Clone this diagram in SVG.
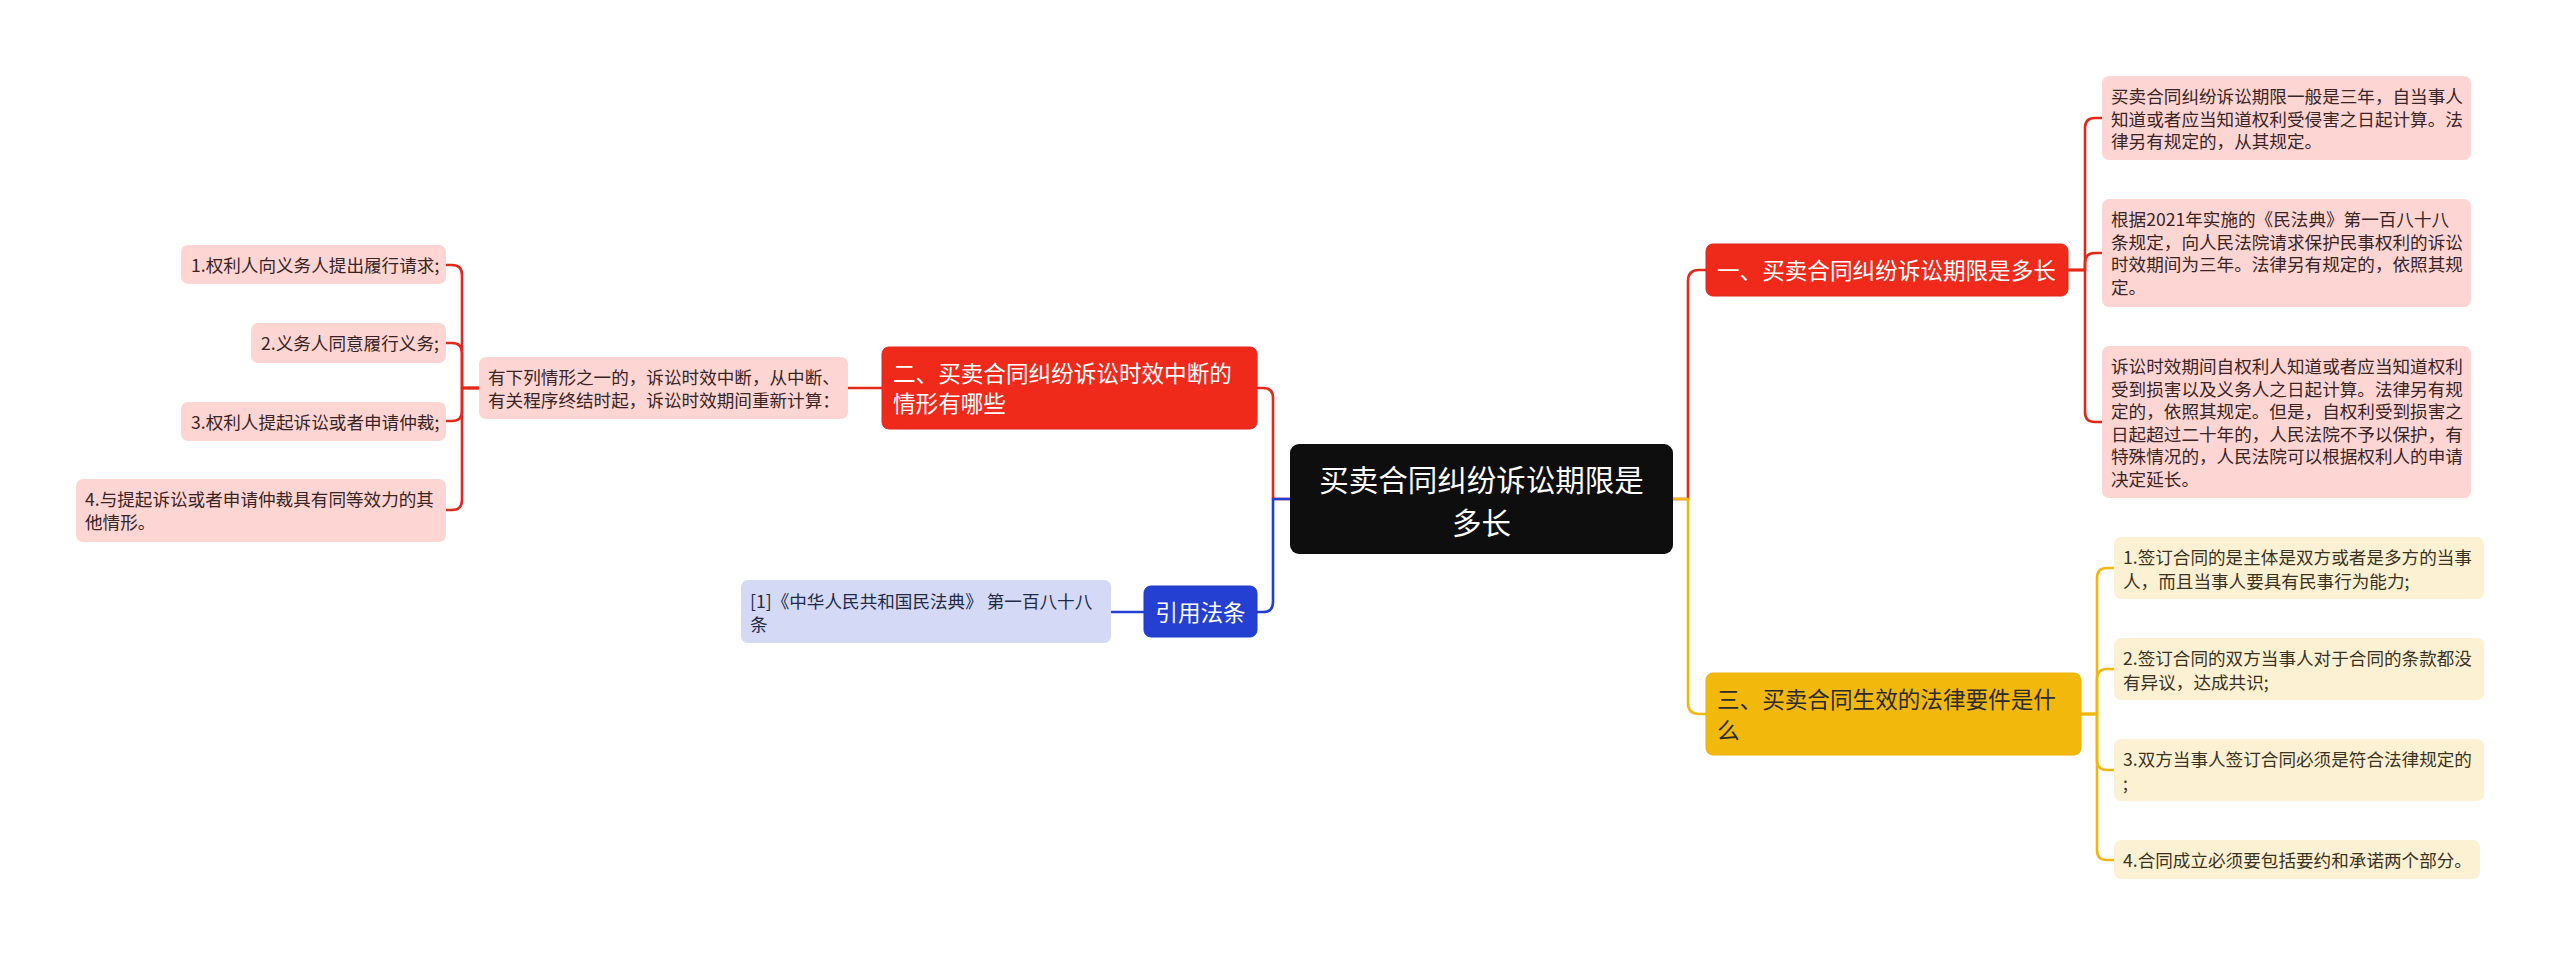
<svg xmlns="http://www.w3.org/2000/svg" width="2560" height="955" viewBox="0 0 2560 955">
<style>
text{font-family:"Noto Sans CJK SC","Noto Sans",sans-serif;}
.lk{fill:none;stroke-width:2.6;stroke-linecap:round;stroke-linejoin:round;}
.r{stroke:#e3281c;}
.y{stroke:#f0b70f;}
.b{stroke:#2340d3;}
.leafp{fill:#fdd6d4;}
.leafy{fill:#fdf1d3;}
.leafb{fill:#d4d9f6;}
.tp{font-size:17.6px;fill:#3a2424;}
.ty{font-size:17.6px;fill:#3a3322;}
.tb{font-size:17.6px;fill:#222a48;}
.main{font-size:22.6px;}
</style>
<rect width="2560" height="955" fill="#ffffff"/>
<g id="connectors">
<path class="lk r" d="M1673,499 H1688 V281 Q1688,270 1699,270 H1706"/>
<path class="lk y" d="M1673,499 H1688 V703 Q1688,714 1699,714 H1706"/>
<path class="lk r" d="M2068,270 H2085 V128 Q2085,118 2095,118 H2102"/>
<path class="lk r" d="M2068,270 H2085 V263 Q2085,253 2095,253 H2102"/>
<path class="lk r" d="M2068,270 H2085 V412 Q2085,422 2095,422 H2102"/>
<path class="lk y" d="M2081,714 H2097 V578 Q2097,568 2107,568 H2114"/>
<path class="lk y" d="M2081,714 H2097 V679 Q2097,669 2107,669 H2114"/>
<path class="lk y" d="M2081,714 H2097 V760 Q2097,770 2107,770 H2114"/>
<path class="lk y" d="M2081,714 H2097 V850 Q2097,860 2107,860 H2114"/>
<path class="lk r" d="M1290,499 H1273 V398 Q1273,388 1263,388 H1257"/>
<path class="lk b" d="M1290,499 H1273 V602 Q1273,612 1263,612 H1257"/>
<path class="lk r" d="M882,388 H848"/>
<path class="lk r" d="M479,388 H462 V275 Q462,265 452,265 H446"/>
<path class="lk r" d="M479,388 H462 V353 Q462,343 452,343 H446"/>
<path class="lk r" d="M479,388 H462 V411 Q462,421 452,421 H446"/>
<path class="lk r" d="M479,388 H462 V500 Q462,510 452,510 H446"/>
<path class="lk b" d="M1144,612 H1111"/>
</g>
<g id="center">
<rect x="1290" y="444" width="383" height="110" rx="9" fill="#0e0e0e"/>
<text x="1481.5" y="490.5" font-size="29.5" fill="#ffffff" text-anchor="middle"><tspan x="1481.5">买卖合同纠纷诉讼期限是</tspan><tspan x="1481.5" dy="43">多长</tspan></text>
</g>
<g id="n1">
<rect x="1706" y="244" width="362" height="52" rx="7" fill="#f02a1b" stroke="#e0261a" stroke-width="1"/>
<text class="main" x="1717" y="278.5" fill="#ffffff">一、买卖合同纠纷诉讼期限是多长</text>
</g>
<g id="n1a">
<rect class="leafp" x="2102" y="76" width="369" height="84" rx="7"/>
<text class="tp" x="2111" y="103"><tspan x="2111">买卖合同纠纷诉讼期限一般是三年，自当事人</tspan><tspan x="2111" dy="22.6">知道或者应当知道权利受侵害之日起计算。法</tspan><tspan x="2111" dy="22.6">律另有规定的，从其规定。</tspan></text>
</g>
<g id="n1b">
<rect class="leafp" x="2102" y="199" width="369" height="108" rx="7"/>
<text class="tp" x="2111" y="226"><tspan x="2111">根据2021年实施的《民法典》第一百八十八</tspan><tspan x="2111" dy="22.6">条规定，向人民法院请求保护民事权利的诉讼</tspan><tspan x="2111" dy="22.6">时效期间为三年。法律另有规定的，依照其规</tspan><tspan x="2111" dy="22.6">定。</tspan></text>
</g>
<g id="n1c">
<rect class="leafp" x="2102" y="346" width="369" height="152" rx="7"/>
<text class="tp" x="2111" y="373"><tspan x="2111">诉讼时效期间自权利人知道或者应当知道权利</tspan><tspan x="2111" dy="22.6">受到损害以及义务人之日起计算。法律另有规</tspan><tspan x="2111" dy="22.6">定的，依照其规定。但是，自权利受到损害之</tspan><tspan x="2111" dy="22.6">日起超过二十年的，人民法院不予以保护，有</tspan><tspan x="2111" dy="22.6">特殊情况的，人民法院可以根据权利人的申请</tspan><tspan x="2111" dy="22.6">决定延长。</tspan></text>
</g>
<g id="n3">
<rect x="1706" y="673" width="375" height="82" rx="7" fill="#f2b90c" stroke="#e8b00a" stroke-width="1"/>
<text class="main" x="1717" y="707.5" fill="#2b2b2b"><tspan x="1717">三、买卖合同生效的法律要件是什</tspan><tspan x="1717" dy="31">么</tspan></text>
</g>
<g id="n3a">
<rect class="leafy" x="2114" y="537" width="370" height="62" rx="7"/>
<text class="ty" x="2123" y="564"><tspan x="2123">1.签订合同的是主体是双方或者是多方的当事</tspan><tspan x="2123" dy="23.5">人，而且当事人要具有民事行为能力;</tspan></text>
</g>
<g id="n3b">
<rect class="leafy" x="2114" y="638" width="370" height="62" rx="7"/>
<text class="ty" x="2123" y="665"><tspan x="2123">2.签订合同的双方当事人对于合同的条款都没</tspan><tspan x="2123" dy="23.5">有异议，达成共识;</tspan></text>
</g>
<g id="n3c">
<rect class="leafy" x="2114" y="739" width="370" height="62" rx="7"/>
<text class="ty" x="2123" y="766"><tspan x="2123">3.双方当事人签订合同必须是符合法律规定的</tspan><tspan x="2123" dy="23.5">;</tspan></text>
</g>
<g id="n3d">
<rect class="leafy" x="2114" y="840" width="366" height="39" rx="7"/>
<text class="ty" x="2123" y="866.5">4.合同成立必须要包括要约和承诺两个部分。</text>
</g>
<g id="n2">
<rect x="882" y="347" width="375" height="82" rx="7" fill="#f02a1b" stroke="#e0261a" stroke-width="1"/>
<text class="main" x="893" y="382" fill="#ffffff"><tspan x="893">二、买卖合同纠纷诉讼时效中断的</tspan><tspan x="893" dy="30">情形有哪些</tspan></text>
</g>
<g id="n2p">
<rect class="leafp" x="479" y="357" width="369" height="62" rx="7"/>
<text class="tp" x="488" y="383.5"><tspan x="488">有下列情形之一的，诉讼时效中断，从中断、</tspan><tspan x="488" dy="23">有关程序终结时起，诉讼时效期间重新计算：</tspan></text>
</g>
<g id="n2a">
<rect class="leafp" x="181" y="245" width="265" height="39" rx="7"/>
<text class="tp" x="191" y="271.5">1.权利人向义务人提出履行请求;</text>
</g>
<g id="n2b">
<rect class="leafp" x="251" y="323" width="195" height="40" rx="7"/>
<text class="tp" x="261" y="350">2.义务人同意履行义务;</text>
</g>
<g id="n2c">
<rect class="leafp" x="181" y="402" width="265" height="39" rx="7"/>
<text class="tp" x="191" y="428.5">3.权利人提起诉讼或者申请仲裁;</text>
</g>
<g id="n2d">
<rect class="leafp" x="76" y="479" width="370" height="63" rx="7"/>
<text class="tp" x="85" y="505.5"><tspan x="85">4.与提起诉讼或者申请仲裁具有同等效力的其</tspan><tspan x="85" dy="23.5">他情形。</tspan></text>
</g>
<g id="nref">
<rect x="1144" y="586" width="113" height="51" rx="7" fill="#2340d3" stroke="#1e38c4" stroke-width="1"/>
<text class="main" x="1200.5" y="620.5" fill="#ffffff" text-anchor="middle">引用法条</text>
</g>
<g id="nrefa">
<rect class="leafb" x="741" y="580" width="370" height="63" rx="7"/>
<text class="tb" x="750" y="607.5"><tspan x="750">[1]《中华人民共和国民法典》 第一百八十八</tspan><tspan x="750" dy="23">条</tspan></text>
</g>
</svg>
